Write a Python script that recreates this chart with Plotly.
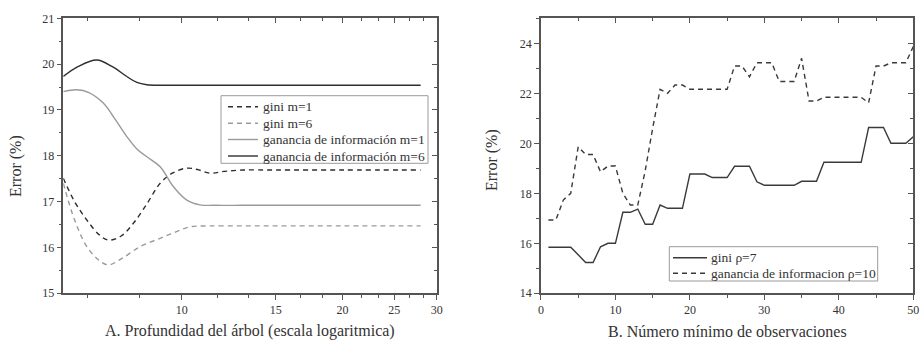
import numpy as np
import plotly.graph_objects as go

# ---------------- Data: panel A (log depth) ----------------
giniM1_x = [6, 6.3, 6.64, 7.0, 7.29, 7.7, 8.12, 8.6, 9.11, 9.6, 10.2, 10.7, 11.3, 12.0, 13.0, 15, 20, 28]
giniM1_y = [17.51, 17.0, 16.6, 16.28, 16.16, 16.25, 16.53, 16.95, 17.4, 17.62, 17.73, 17.7, 17.62, 17.66, 17.69, 17.69, 17.69, 17.69]

giniM6_x = [6, 6.3, 6.64, 7.0, 7.29, 7.7, 8.36, 9.11, 9.7, 10.36, 11.3, 13.0, 15, 20, 28]
giniM6_y = [17.4, 16.6, 16.02, 15.72, 15.62, 15.75, 16.02, 16.2, 16.33, 16.45, 16.47, 16.47, 16.47, 16.47, 16.47]

gainM1_x = [6, 6.36, 6.7, 7.13, 7.5, 7.89, 8.24, 8.6, 9.11, 9.64, 10.2, 10.82, 11.5, 13.0, 15, 20, 28]
gainM1_y = [19.4, 19.44, 19.38, 19.15, 18.8, 18.42, 18.15, 17.98, 17.76, 17.33, 17.04, 16.93, 16.92, 16.92, 16.92, 16.92, 16.92]

gainM6_x = [6, 6.4, 6.93, 7.4, 7.89, 8.24, 8.6, 9.2, 10.0, 12.0, 15, 20, 28]
gainM6_y = [19.73, 19.95, 20.09, 19.95, 19.73, 19.6, 19.55, 19.54, 19.54, 19.54, 19.54, 19.54, 19.54]

# ---------------- Data: panel B (min observations) ----------------
obs = list(range(1, 51))
gini_rho7 = [15.84, 15.84, 15.84, 15.84, 15.54, 15.23, 15.23, 15.86, 16.0, 16.0,
             17.24, 17.24, 17.37, 16.76, 16.76, 17.53, 17.4, 17.4, 17.4, 18.77,
             18.77, 18.77, 18.63, 18.63, 18.63, 19.08, 19.08, 19.08, 18.46, 18.32,
             18.32, 18.32, 18.32, 18.32, 18.48, 18.48, 18.48, 19.24, 19.24, 19.24,
             19.24, 19.24, 19.24, 20.63, 20.63, 20.63, 20.0, 20.0, 20.0, 20.26]
gain_rho10 = [16.93, 16.93, 17.73, 18.0, 19.86, 19.55, 19.55, 18.86, 19.09, 19.09,
              18.0, 17.53, 17.53, 18.9, 20.6, 22.16, 22.0, 22.33, 22.33, 22.16,
              22.16, 22.16, 22.16, 22.16, 22.16, 23.09, 23.09, 22.66, 23.22, 23.22,
              23.22, 22.47, 22.47, 22.47, 23.4, 21.69, 21.69, 21.84, 21.84, 21.84,
              21.84, 21.84, 21.84, 21.62, 23.09, 23.09, 23.22, 23.22, 23.22, 23.87]

# tick labels
xA_ticks = [10, 15, 20, 25, 30]
xA_minor = [6.667, 8.333, 11.667, 13.333, 16.667, 18.333, 21.667, 23.333, 26.667, 28.333]
yA_ticks = [15, 16, 17, 18, 19, 20, 21]
xB_ticks = [0, 10, 20, 30, 40, 50]
yB_ticks = [14, 16, 18, 20, 22, 24]

FONT = "Liberation Serif, Times New Roman, Times, serif"
DARK = "#2e2e2e"
LIGHT = "#9a9a9a"
MID = "#3a3a3a"
AXC = "#555555"
DASH = "5px,4px"

W, H = 920, 341
fig = go.Figure()

def add(x, y, name, color, dash, xa, ya, shape="spline"):
    line = dict(color=color, width=1.4, dash=dash, shape=shape)
    if shape == "spline":
        line["smoothing"] = 1.0
    fig.add_trace(go.Scatter(x=x, y=y, name=name, mode="lines", line=line,
                             xaxis=xa, yaxis=ya, showlegend=False))

series_A = [
    (giniM1_x, giniM1_y, "gini m=1", DARK, DASH),
    (giniM6_x, giniM6_y, "gini m=6", LIGHT, DASH),
    (gainM1_x, gainM1_y, "ganancia de información m=1", LIGHT, "solid"),
    (gainM6_x, gainM6_y, "ganancia de información m=6", DARK, "solid"),
]
series_B = [
    (obs, gini_rho7, "gini ρ=7", MID, "solid"),
    (obs, gain_rho10, "ganancia de informacion ρ=10", MID, DASH),
]
for x, y, n, c, d in series_A:
    add(x, y, n, c, d, "x", "y")
for x, y, n, c, d in series_B:
    add(x, y, n, c, d, "x2", "y2", shape="linear")

# empty traces to host the mirrored (inside-tick) axes
fig.add_trace(go.Scatter(x=[], y=[], xaxis="x3", yaxis="y3", showlegend=False, hoverinfo="skip"))
fig.add_trace(go.Scatter(x=[], y=[], xaxis="x4", yaxis="y4", showlegend=False, hoverinfo="skip"))

dA = [0.0688, 0.4746]
dB = [0.588, 0.9927]
dY = [0.1399, 0.9463]

tickfont = dict(family=FONT, size=12, color="#333")
common = dict(showgrid=False, zeroline=False, showline=True, linecolor=AXC, linewidth=1.5,
              tickcolor=AXC, tickwidth=1.2, tickfont=tickfont, automargin=False)
mirr = dict(showgrid=False, zeroline=False, showline=False, tickcolor=AXC, tickwidth=1.2,
            showticklabels=False, automargin=False)

rA = [np.log10(6), np.log10(30)]

fig.update_layout(
    template="none",
    width=W, height=H,
    margin=dict(l=0, r=0, t=0, b=0, pad=0),
    font=dict(family=FONT, color="#333"),
    paper_bgcolor="white", plot_bgcolor="white",
    showlegend=False,
    xaxis=dict(domain=dA, type="log", range=rA, tickmode="array", tickvals=xA_ticks,
               ticktext=[str(v) for v in xA_ticks], ticks="outside", ticklen=5, anchor="y",
               minor=dict(tickmode="array", tickvals=xA_minor, ticks="outside", ticklen=3,
                          tickcolor=AXC), mirror=True, **common),
    yaxis=dict(domain=dY, range=[15, 21], tickmode="array", tickvals=yA_ticks, ticks="outside",
               ticklen=5, anchor="x", minor=dict(dtick=0.5, ticks="outside", ticklen=3, tickcolor=AXC),
               mirror=True, **common),
    xaxis2=dict(domain=dB, range=[0, 50], tickmode="array", tickvals=xB_ticks, ticks="outside",
                ticklen=5, anchor="y2", minor=dict(dtick=5, ticks="outside", ticklen=3, tickcolor=AXC),
                mirror=True, **common),
    yaxis2=dict(domain=dY, range=[14, 25], tickmode="array", tickvals=yB_ticks, ticks="outside",
                ticklen=5, anchor="x2", minor=dict(dtick=1, ticks="outside", ticklen=3, tickcolor=AXC),
                mirror=True, **common),
    xaxis3=dict(overlaying="x", side="top", anchor="y", type="log", range=rA, tickmode="array",
                tickvals=xA_ticks, ticks="inside", ticklen=5,
                minor=dict(tickmode="array", tickvals=xA_minor, ticks="inside", ticklen=3, tickcolor=AXC),
                **mirr),
    yaxis3=dict(overlaying="y", side="right", anchor="x", range=[15, 21], tickmode="array",
                tickvals=yA_ticks, ticks="inside", ticklen=5,
                minor=dict(dtick=0.5, ticks="inside", ticklen=3, tickcolor=AXC), **mirr),
    xaxis4=dict(overlaying="x2", side="top", anchor="y2", range=[0, 50], tickmode="array",
                tickvals=xB_ticks, ticks="inside", ticklen=5,
                minor=dict(dtick=5, ticks="inside", ticklen=3, tickcolor=AXC), **mirr),
    yaxis4=dict(overlaying="y2", side="right", anchor="x2", range=[14, 25], tickmode="array",
                tickvals=yB_ticks, ticks="inside", ticklen=5,
                minor=dict(dtick=1, ticks="inside", ticklen=3, tickcolor=AXC), **mirr),
)

# ---- compact legends (box + sample lines + labels), placed in paper pixels ----
def px_x(v):
    return v / W

def px_y(v):
    return 1 - v / H

def legend_box(box, rows, line_x0, line_x1, text_x, entries, size):
    x0, y0, x1, y1 = box
    fig.add_shape(type="rect", xref="paper", yref="paper", x0=px_x(x0), x1=px_x(x1),
                  y0=px_y(y1), y1=px_y(y0), line=dict(color="#9a9a9a", width=1),
                  fillcolor="white", layer="above")
    for (name, color, dash), ry in zip(entries, rows):
        fig.add_shape(type="line", xref="paper", yref="paper", x0=px_x(line_x0), x1=px_x(line_x1),
                      y0=px_y(ry), y1=px_y(ry), line=dict(color=color, width=1.4, dash=dash),
                      layer="above")
        fig.add_annotation(text=name, xref="paper", yref="paper", x=px_x(text_x), y=px_y(ry),
                           xanchor="left", yanchor="middle", showarrow=False,
                           font=dict(family=FONT, size=size, color="#333"))

legend_box((221, 95.7, 428, 163.3), [106.7, 123.3, 139.5, 156.0], 228, 258, 261,
           [(n, c, d) for _, _, n, c, d in series_A], 13.5)
legend_box((669.3, 246.7, 877.7, 281.0), [257.7, 273.3], 673, 707, 709,
           [(n, c, d) for _, _, n, c, d in series_B], 13.5)

titlefont = dict(family=FONT, size=16, color="#333")
fig.add_annotation(text="A. Profundidad del árbol (escala logaritmica)", xref="paper", yref="paper",
                   x=250 / W, y=1 - 331 / H, showarrow=False, font=titlefont,
                   xanchor="center", yanchor="middle")
fig.add_annotation(text="B. Número mínimo de observaciones", xref="paper", yref="paper",
                   x=727 / W, y=1 - 331 / H, showarrow=False, font=titlefont,
                   xanchor="center", yanchor="middle")
fig.add_annotation(text="Error (%)", xref="paper", yref="paper", x=16 / W, y=1 - 166 / H,
                   showarrow=False, font=titlefont, textangle=-90, xanchor="center", yanchor="middle")
fig.add_annotation(text="Error (%)", xref="paper", yref="paper", x=492 / W, y=1 - 160 / H,
                   showarrow=False, font=titlefont, textangle=-90, xanchor="center", yanchor="middle")

fig.write_html("out.html", config={"displayModeBar": False},
               post_script="document.body.style.margin='0';document.body.style.overflow='hidden';")
